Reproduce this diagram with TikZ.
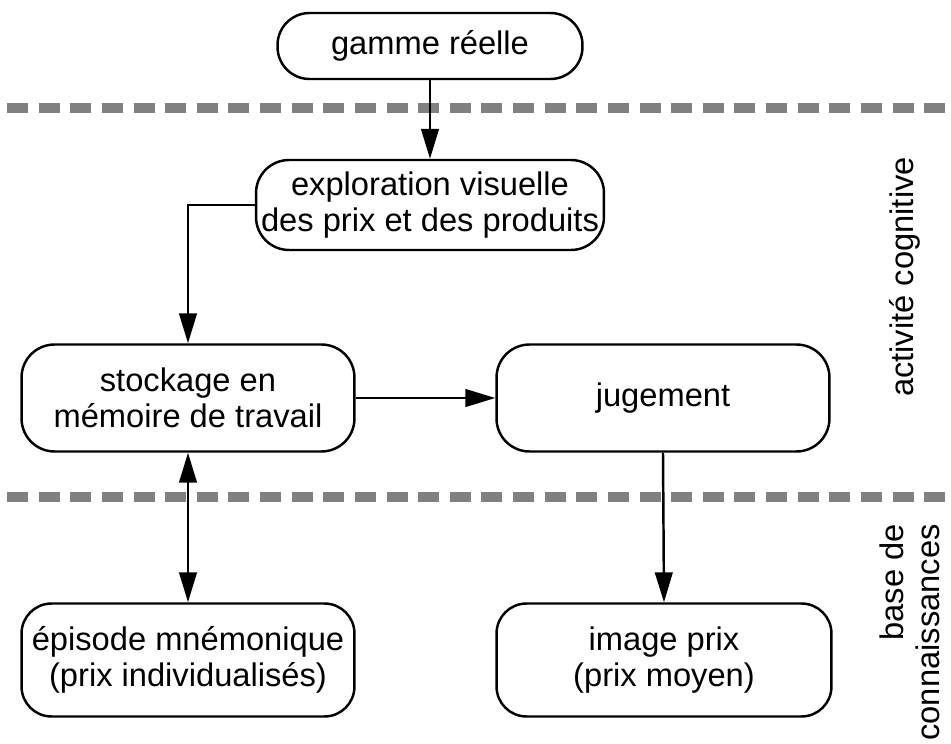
\documentclass[tikz,border=0pt]{standalone}
\usepackage{fontspec}
\setmainfont{Liberation Sans}
\usetikzlibrary{arrows.meta, positioning}

\begin{document}
\begin{tikzpicture}[
        x=0.02cm, y=-0.02cm,
        font=\fontsize{18.6}{20.5}\selectfont,
        stepBox/.style={
            rectangle, rounded corners=0.66cm, draw=black, line width=1.4pt,
            align=center, inner sep=0pt
        },
        pillBox/.style={
            stepBox, rounded corners=0.64cm
        },
        levelLine/.style={
            draw=black!50, line width=5.7pt, dash pattern=on 12pt off 6pt
        },
        arrow/.style={
            line width=1.4pt, -{Triangle[length=17pt, width=10pt]}, draw=black
        },
        both/.style={
            line width=1.4pt, {Triangle[length=17pt, width=10pt]}-{Triangle[length=17pt, width=10pt]}, draw=black
        }
    ]
        \useasboundingbox (0,0) rectangle (951,744);

        % Level separators
        \coordinate (topL) at (7,108);
        \coordinate (topR) at (951,108);
        \coordinate (botL) at (7,497);
        \coordinate (botR) at (951,497);
        \draw [levelLine] (topL) -- (topR);
        \draw [levelLine] (botL) -- (botR);

        % Cognitive activity
        \node (gamme) [pillBox, minimum width=6.1cm, minimum height=1.32cm] at (430,46) {gamme réelle};
        \node (explo) [stepBox, minimum width=6.96cm, minimum height=1.8cm] at (430,205) {exploration visuelle\\des prix et des produits};
        \node (stock) [stepBox, minimum width=6.66cm, minimum height=2.14cm] at (188,398) {stockage en\\mémoire de travail};
        \node (juge) [stepBox, minimum width=6.66cm, minimum height=2.14cm] at (663,398) {jugement};

        % Knowledge base
        \node (episode) [stepBox, rounded corners=0.6cm, minimum width=6.66cm, minimum height=2.26cm] at (188,660) {épisode mnémonique\\(prix individualisés)};
        \node (image) [stepBox, rounded corners=0.6cm, minimum width=6.7cm, minimum height=2.26cm] at (664,660) {image prix\\(prix moyen)};

        % Side labels
        \node (actLbl) [rotate=90, inner sep=0pt] at (905,277) {activité cognitive};
        \node (baseLbl) [rotate=90, anchor=east, align=right, inner sep=0pt] at (910,524) {base de\\connaissances};

        \draw [arrow] (gamme.south) -- (explo.north);
        \draw [arrow] (explo.west) -| (stock.north);
        \draw [arrow] (stock.east) -- (juge.west);
        \draw [both] (stock.south) -- (episode.north);
        \draw [arrow] (juge.south) -- (image.north);
    \end{tikzpicture}
\end{document}
